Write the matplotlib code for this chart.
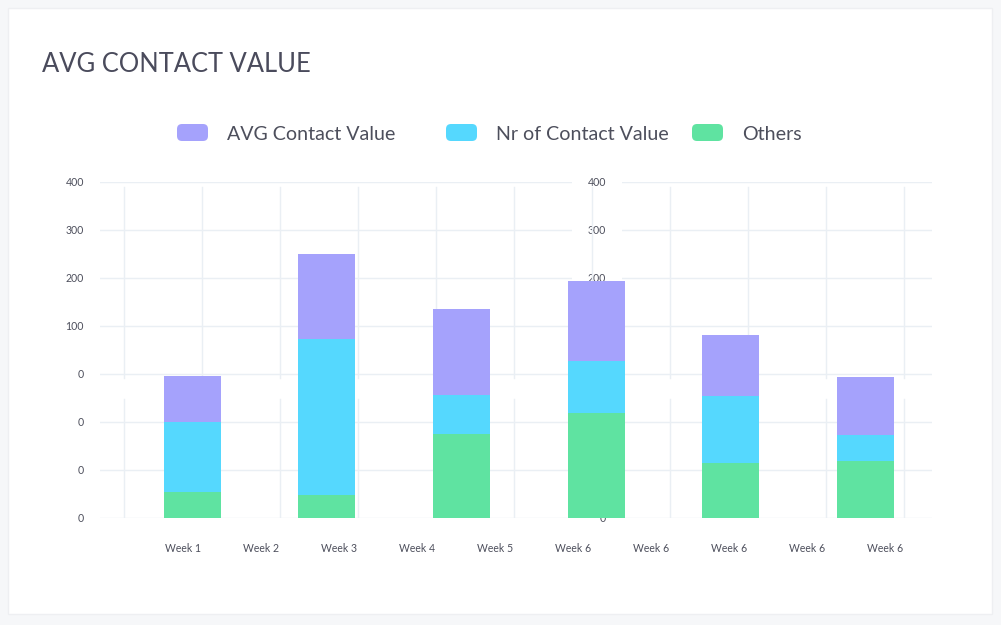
import matplotlib
matplotlib.use('Agg')
import matplotlib.pyplot as plt
import matplotlib.transforms as mtransforms
from matplotlib.patches import Rectangle, FancyBboxPatch

plt.rcParams['font.family'] = ['Lato', 'DejaVu Sans']

# data
weeks = ['Week 1', 'Week 2', 'Week 3', 'Week 4', 'Week 5',
         'Week 6', 'Week 6', 'Week 6', 'Week 6', 'Week 6']
others = [55, 48, 176, 218, 114, 119]
nr_contact = [144, 325, 80, 110, 140, 54]
avg_contact = [96, 178, 179, 166, 128, 121]
y_ticks = [0, 100, 200, 300, 400, 500, 600, 700]
y_labels = ['0', '0', '0', '0', '100', '200', '300', '400']

c_avg = '#a5a2fc'
c_nr = '#55d8fe'
c_oth = '#5fe3a1'
grid_c = '#eaeff4'
txt_c = '#4d4f5c'

W, H = 1001, 625
fig = plt.figure(figsize=(W / 100, H / 100), dpi=100, facecolor='#f6f7f9')


def fx(x):
    return x / W


def fy(y):
    return (H - y) / H


# card
fig.patches.append(Rectangle((fx(8), fy(614)), fx(984), 606 / H,
                             transform=fig.transFigure, facecolor='white',
                             edgecolor='#eeeff2', lw=1, zorder=-2))

fig.text(fx(42), fy(64), 'AVG CONTACT VALUE', fontsize=18.4, color='#4a4b5c',
         va='center', ha='left')

# legend
legend = [(177, 'AVG Contact Value', c_avg), (446, 'Nr of Contact Value', c_nr),
          (692, 'Others', c_oth)]
for x0, lab, col in legend:
    fig.patches.append(FancyBboxPatch((fx(x0), fy(141)), fx(31), 17 / H,
                                      boxstyle='round,pad=0,rounding_size=0.005',
                                      transform=fig.transFigure, facecolor=col,
                                      edgecolor='none', mutation_aspect=W / H))
    fig.text(fx(x0 + 50), fy(134), lab, fontsize=14.1, color=txt_c,
             va='center', ha='left')

rect = [fx(100), fy(518), fx(832), 336 / H]

# grid + labels axes
ax_g = fig.add_axes(rect, zorder=0.1)
ax_g.set_xlim(-1.06, 9.606)
ax_g.set_ylim(0, 700)
ax_g.set_xticks(range(len(weeks)))
ax_g.set_xticklabels(weeks)
ax_g.set_yticks(y_ticks)
ax_g.set_yticklabels(y_labels)
ax_g.tick_params(length=0, labelsize=7.6, labelcolor=txt_c)
ax_g.tick_params(axis='y', pad=11.5)
ax_g.tick_params(axis='x', pad=18)
ax_g.grid(axis='y', color=grid_c, lw=1)
ax_g.set_axisbelow(True)
ax_g.patch.set_visible(False)
for s in ax_g.spines.values():
    s.set_visible(False)

# second y labels sitting in the middle of the chart
ax_r = fig.add_axes([fx(610), fy(518), fx(10), 336 / H], zorder=1)
ax_r.set_ylim(0, 700)
ax_r.set_yticks(y_ticks)
ax_r.set_yticklabels(y_labels)
ax_r.set_xticks([])
ax_r.tick_params(length=0, labelsize=7.6, labelcolor=txt_c, pad=3)
ax_r.patch.set_visible(False)
for s in ax_r.spines.values():
    s.set_visible(False)
for t in ax_r.get_yticklabels():
    t.set_bbox(dict(facecolor='white', edgecolor='none', boxstyle='square,pad=1.5'))

# bars axes
ax = fig.add_axes(rect, zorder=2)
ax.set_xlim(-0.683, 5.492)
ax.set_ylim(0, 700)
ax.patch.set_visible(False)
ax.set_xticks([])
ax.set_yticks([])
for s in ax.spines.values():
    s.set_visible(False)

# vertical grid lines, broken in two pieces
trans = mtransforms.blended_transform_factory(ax_g.transData, ax.transAxes)
for k in range(len(weeks) + 1):
    ax.plot([k - 0.75, k - 0.75], [0.985, 0.417], transform=trans,
            color=grid_c, lw=1, zorder=1)
    ax.plot([k - 0.75, k - 0.75], [0.354, 0.0], transform=trans,
            color=grid_c, lw=1, zorder=1)

x = range(len(others))
bottom2 = [a + b for a, b in zip(others, nr_contact)]
ax.bar(x, others, width=0.423, color=c_oth, zorder=3)
ax.bar(x, nr_contact, width=0.423, bottom=others, color=c_nr, zorder=3)
ax.bar(x, avg_contact, width=0.423, bottom=bottom2, color=c_avg, zorder=3)

fig.savefig('out.png', dpi=100, facecolor=fig.get_facecolor())
